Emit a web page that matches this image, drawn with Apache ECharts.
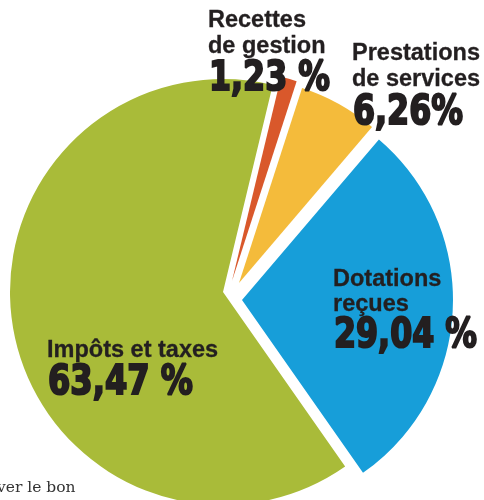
<!DOCTYPE html>
<html>
<head>
<meta charset="utf-8">
<script src="https://cdn.jsdelivr.net/npm/echarts@6/dist/echarts.min.js"></script>
<style>
html,body{margin:0;padding:0;background:#fff;}
#c{width:484px;height:500px;}
</style>
</head>
<body>
<div id="c"></div>
<script>
// ---- data ----
const categories = ['Recettes de gestion', 'Prestations de services', 'Dotations reçues', 'Impôts et taxes'];
const values = [1.23, 6.26, 29.04, 63.47];
const labelLines = [['Recettes', 'de gestion'], ['Prestations', 'de services'], ['Dotations', 'reçues'], ['Impôts et taxes']];
const footText = 'ver le bon';

// ---- layout / style ----
const colors = ['#d9582b', '#f4bb3b', '#179ed9', '#a9bb39'];
const centers = [[232, 281], [239, 283], [242, 300], [223, 292]];
const radii = [210, 205, 211, 213];
const startAngle = 76.5;
const textColor = '#231f20';
// label blocks: x, cap-centre y of each name line, cap-centre y of number, number target width, space before %
const labelLayout = [
  {x: 208, lines: [20.5, 47], numY: 80, numW: 121, sep: ' '},
  {x: 352, lines: [53.5, 79.5], numY: 114, numW: 110, sep: ''},
  {x: 333, lines: [279.5, 305], numY: 337, numW: 143, sep: ' '},
  {x: 47, lines: [351], numY: 384, numW: 145, sep: ' '}
];

const numFont = '"DejaVu Sans", sans-serif';
const numSize = 40;
const nameFont = '"Liberation Sans", Arial, sans-serif';
const nameSize = 23.5;

const mctx = document.createElement('canvas').getContext('2d');
function measure(text, font) { mctx.font = font; return mctx.measureText(text).width; }

function fmt(v, sep) { return v.toFixed(2).replace('.', ',') + sep + '%'; }

const series = values.map((_, i) => ({
  type: 'pie',
  center: centers[i],
  radius: [0, radii[i]],
  startAngle: startAngle,
  clockwise: true,
  silent: true,
  animation: false,
  avoidLabelOverlap: false,
  label: {show: false},
  labelLine: {show: false},
  emphasis: {disabled: true},
  itemStyle: {borderWidth: 0},
  z: 2,
  data: values.map((v, j) => ({
    name: categories[j],
    value: v,
    itemStyle: {color: j === i ? colors[i] : 'rgba(0,0,0,0)', borderWidth: 0}
  }))
}));

const graphics = [];
labelLines.forEach((lines, i) => {
  const L = labelLayout[i];
  lines.forEach((t, k) => {
    graphics.push({
      type: 'text', x: L.x, y: L.lines[k], z: 100,
      style: {text: t, x: 0, y: 0, align: 'left', verticalAlign: 'middle',
        font: 'bold ' + nameSize + 'px ' + nameFont, fill: textColor,
        stroke: textColor, lineWidth: 0.3}
    });
  });
  const numText = fmt(values[i], L.sep);
  const f = 'bold ' + numSize + 'px ' + numFont;
  const w = measure(numText, f);
  graphics.push({
    type: 'text', x: L.x + 1, y: L.numY, z: 100, scaleX: L.numW / w,
    style: {text: numText, x: 0, y: 0, align: 'left', verticalAlign: 'middle',
      font: f, fill: textColor, stroke: textColor, lineWidth: 2.2, lineJoin: 'round'}
  });
});
graphics.push({
  type: 'text', x: -3, y: 488, z: 100,
  style: {text: footText, x: 0, y: 0, align: 'left', verticalAlign: 'middle',
    font: '15.5px "DejaVu Serif", "Liberation Serif", serif', fill: '#333'}
});

const chart = echarts.init(document.getElementById('c'), null, {renderer: 'canvas'});
chart.setOption({
  animation: false,
  backgroundColor: '#fff',
  series: series,
  graphic: graphics
});
</script>
</body>
</html>
